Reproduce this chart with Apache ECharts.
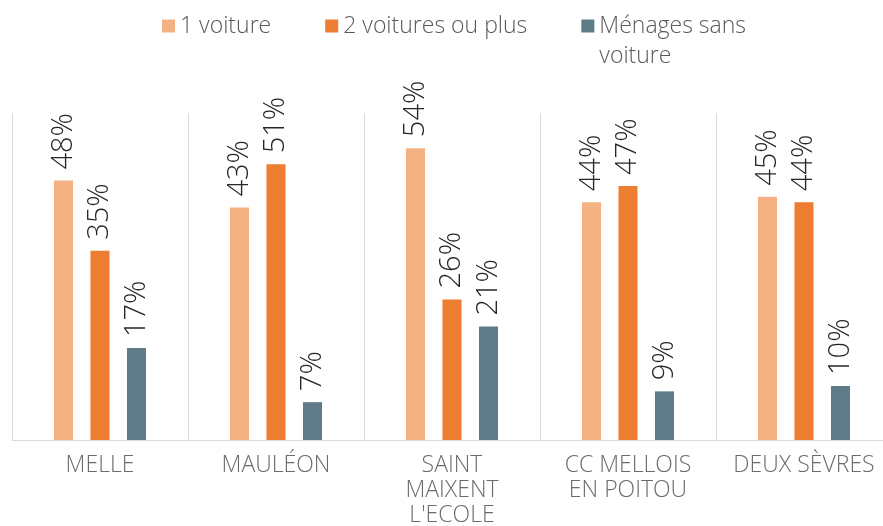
<!DOCTYPE html>
<html>
<head>
<meta charset="utf-8">
<script src="https://cdn.jsdelivr.net/npm/echarts@6/dist/echarts.min.js"></script>
<style>
  html, body { margin: 0; padding: 0; background: #fff; }
  #chart { width: 883px; height: 526px; }
</style>
</head>
<body>
<div id="chart"></div>
<script>
const categories = ['MELLE', 'MAULÉON', 'SAINT\nMAIXENT\nL\'ECOLE', 'CC MELLOIS\nEN POITOU', 'DEUX SÈVRES'];
const uneVoiture = [48, 43, 54, 44, 45];
const deuxVoitures = [35, 51, 26, 47, 44];
const sansVoiture = [17, 7, 21, 9, 10];

const seriesNames = ['1 voiture', '2 voitures ou plus', 'Ménages sans voiture'];
const colors = ['#F4B183', '#ED7D31', '#607B88'];

const chart = echarts.init(document.getElementById('chart'));

const labelStyle = {
  show: true,
  position: 'top',
  rotate: 90,
  align: 'left',
  verticalAlign: 'middle',
  distance: 11,
  formatter: '{c}%',
  fontFamily: 'Open Sans',
  fontWeight: 300,
  fontSize: 29,
  color: '#262626'
};

function makeSeries(name, data, color) {
  return {
    name: name,
    type: 'bar',
    data: data,
    barWidth: 19,
    barGap: '92%',
    itemStyle: { color: color },
    label: labelStyle
  };
}

const option = {
  animation: false,
  color: colors,
  legend: {
    left: 162,
    top: -19,
    padding: 0,
    itemWidth: 13,
    itemHeight: 13,
    itemGap: 54,
    icon: 'rect',
    textStyle: {
      fontFamily: 'Open Sans',
      fontWeight: 300,
      fontSize: 23,
      color: '#595959',
      lineHeight: 30
    },
    data: seriesNames,
    // the third entry wraps under its first line, like the source
    formatter: function (name) {
      return name === 'Ménages sans voiture' ? '\nMénages sans\nvoiture' : name;
    }
  },
  grid: {
    left: 12,
    right: -9,
    top: 113,
    bottom: 86,
    outerBoundsMode: 'none',
    containLabel: false
  },
  xAxis: {
    type: 'category',
    data: categories,
    axisTick: { show: false },
    axisLine: { lineStyle: { color: '#d9d9d9', width: 1 } },
    splitLine: { show: true, lineStyle: { color: '#d9d9d9', width: 1 } },
    axisLabel: {
      margin: 13,
      fontFamily: 'Open Sans',
      fontWeight: 300,
      fontSize: 23,
      lineHeight: 25,
      color: '#6b6b6b',
      interval: 0
    }
  },
  yAxis: {
    type: 'value',
    min: 0,
    max: 60.5,
    show: false,
    splitLine: { show: false }
  },
  series: [
    makeSeries(seriesNames[0], uneVoiture, colors[0]),
    makeSeries(seriesNames[1], deuxVoitures, colors[1]),
    makeSeries(seriesNames[2], sansVoiture, colors[2])
  ]
};

chart.setOption(option);
</script>
</body>
</html>
